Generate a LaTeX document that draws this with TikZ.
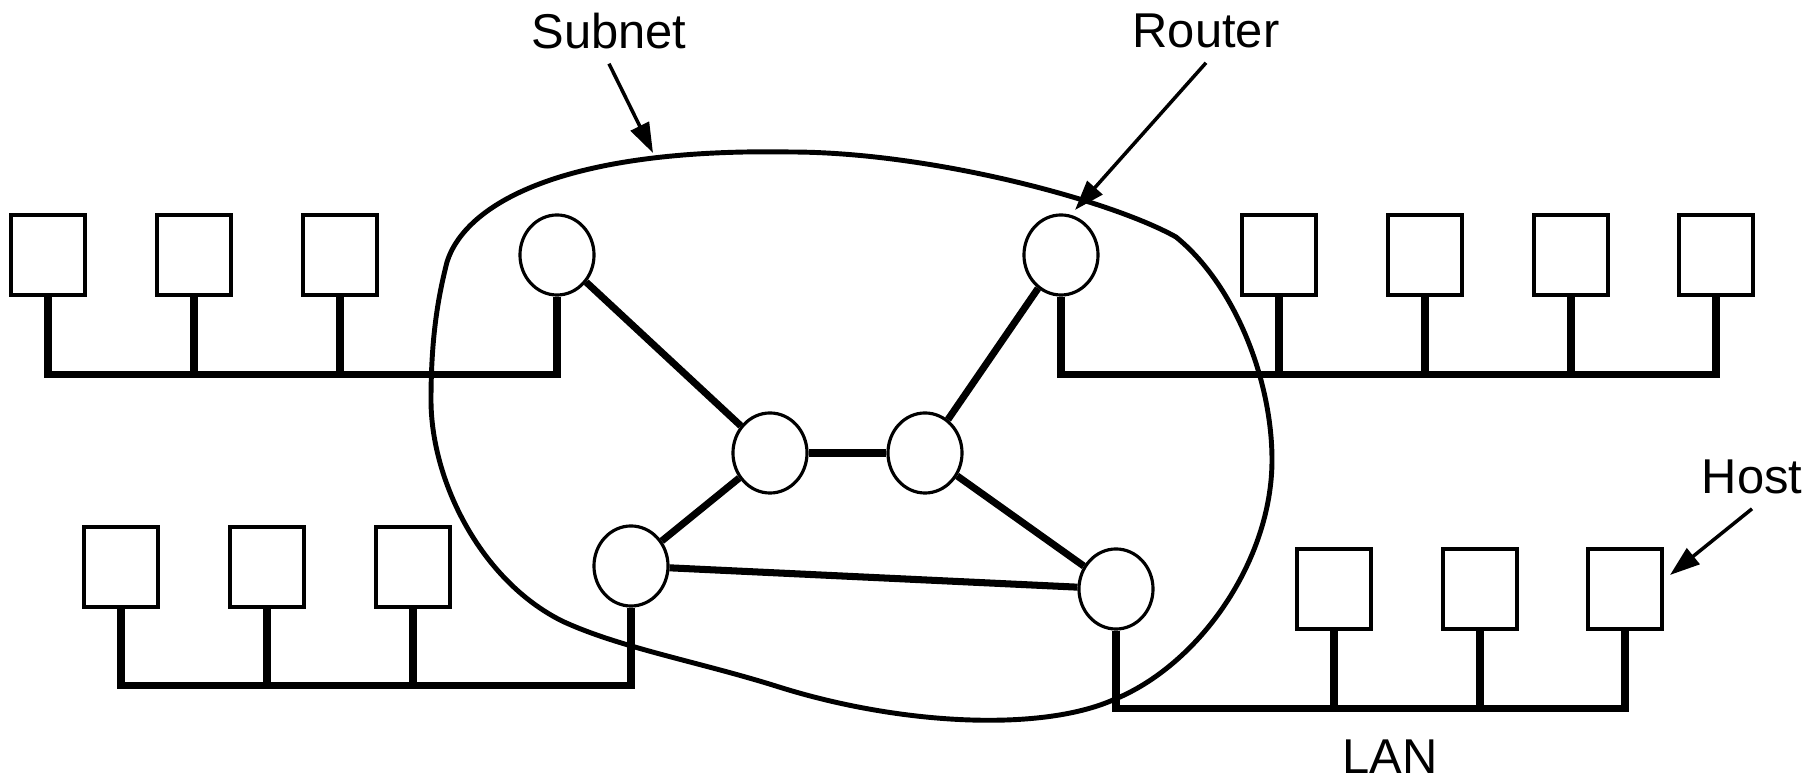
\documentclass[tikz,border=0pt]{standalone}
\usepackage{fontspec}
\setmainfont{Liberation Sans}
\usetikzlibrary{shapes.geometric,arrows.meta}

\tikzset{
	host/.style={draw, line width=0.9pt, minimum width=0.74cm, minimum height=0.8cm, inner sep=0pt},
	router/.style={draw, ellipse, line width=0.9pt, minimum width=0.74cm, minimum height=0.8cm, inner sep=0pt},
	bus/.style={line width=2pt},
	link/.style={line width=2pt},
	pointer/.style={line width=1pt, -{Triangle[length=0.3cm, width=0.2cm]}},
	lbl/.style={font=\fontsize{13.9}{16}\selectfont, inner sep=4pt}
}

\begin{document}
\begin{tikzpicture}[x=0.01cm, y=-0.01cm]
		\useasboundingbox (0,0) rectangle (1814,780);

		% routers
		\foreach \n / \x / \y in {r1/557/255, r2/1061/255, r3/631/566, r4/1116/589, m1/770/453, m2/925/453} {
		\node[router] (\n) at (\x, \y) {};
		}

		% hosts
		\foreach \x / \i in {48/1, 194/2, 340/3} \node[host] (a-\i) at (\x, 255) {};
		\foreach \x / \i in {1279/1, 1425/2, 1571/3, 1716/4} \node[host] (b-\i) at (\x, 255) {};
		\foreach \x / \i in {121/1, 267/2, 413/3} \node[host] (c-\i) at (\x, 567) {};
		\foreach \x / \i in {1334/1, 1480/2, 1625/3} \node[host] (d-\i) at (\x, 589) {};

		% LANs
		\draw[bus] (a-1.south) -- ++(0,78) -| (r1.south);
		\foreach \i in {2,3} \draw[bus] (a-\i.south) -- ++(0,78);
		\draw[bus] (r2.south) -- ++(0,78) -| (b-4.south);
		\foreach \i in {1,2,3} \draw[bus] (b-\i.south) -- ++(0,78);
		\draw[bus] (c-1.south) -- ++(0,77) -| (r3.south);
		\foreach \i in {2,3} \draw[bus] (c-\i.south) -- ++(0,77);
		\draw[bus] (r4.south) -- ++(0,78) -| (d-3.south);
		\foreach \i in {1,2} \draw[bus] (d-\i.south) -- ++(0,78);

		% subnet lines
		\foreach \p / \q in {r1/m1, m1/m2, m2/r2, m1/r3, m2/r4, r3/r4} {
		\draw[link] (\p) -- (\q);
		}

		% subnet boundary
		\draw[line width=1.4pt] (431,400)
		.. controls (431,330) and (440,290) .. (447,262)
		.. controls (465,205) and (560,148) .. (790,152)
		.. controls (930,152) and (1110,200) .. (1176,237)
		.. controls (1235,285) and (1272,380) .. (1272,460)
		.. controls (1272,560) and (1200,665) .. (1113,700)
		.. controls (1040,732) and (900,725) .. (779,687)
		.. controls (700,662) and (620,648) .. (562,621)
		.. controls (480,580) and (431,480) .. cycle;

		% labels
		\node[lbl] (subnet) at (609,31) {Subnet};
		\node[lbl] (router) at (1206,31) {Router};
		\node[lbl] (host) at (1752,477) {Host};
		\node[lbl] (lan) at (1390,757) {LAN};

		\coordinate (subnettip) at (653,153);
		\coordinate (routertip) at (1075,210);
		\coordinate (hosttip) at (1670,575);
		\draw[pointer] (subnet.south) -- (subnettip);
		\draw[pointer] (router.south) -- (routertip);
		\draw[pointer] (host.south) -- (hosttip);

	\end{tikzpicture}
\end{document}
